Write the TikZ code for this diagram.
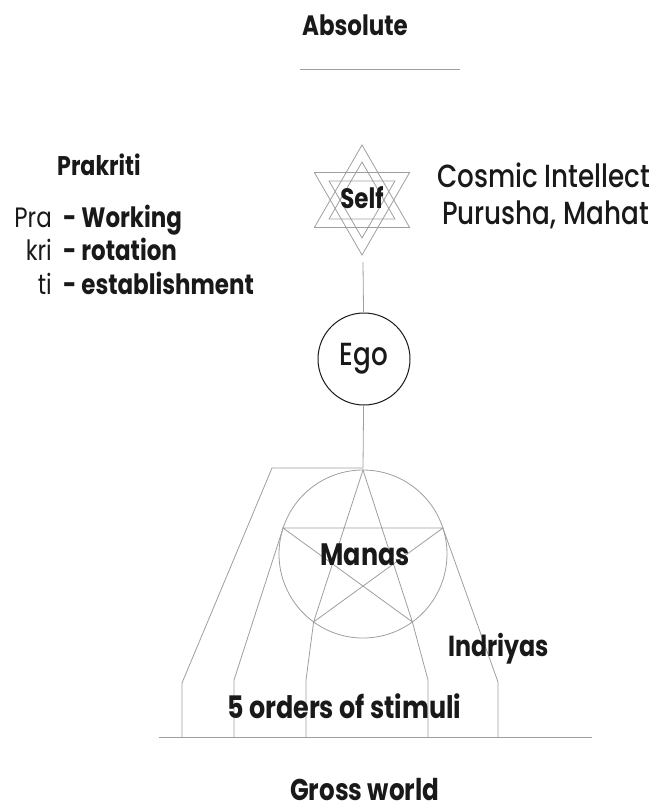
\documentclass[tikz,border=0pt]{standalone}
\usepackage{fontspec}
\setmainfont{Poppins}[FakeStretch=0.82]
\newfontfamily\mediumfont{Poppins}[UprightFont={* Medium}, FakeStretch=0.82]
\usetikzlibrary{calc}
\definecolor{lineGray}{rgb}{0.62,0.62,0.62}
\definecolor{egoGray}{rgb}{0.3,0.3,0.3}
\definecolor{textBlack}{rgb}{0.1,0.1,0.1}
\newcommand{\sizeat}[1]{\fontsize{#1}{#1}\selectfont}

\begin{document}
\begin{tikzpicture}[x=1pt,y=-1pt]

            \tikzstyle{thinLine} = [lineGray, line width=0.8pt];
            \tikzstyle{egoCircle} = [shape = circle, draw=egoGray, line width=1pt, minimum size=92pt, inner sep=0pt];
            \tikzstyle{boldLabel} = [textBlack, inner sep=0pt, font=\sizeat{31}\bfseries];
            \tikzstyle{plainLabel} = [textBlack, inner sep=0pt, font=\sizeat{28}];
            \tikzstyle{mediumLabel} = [textBlack, inner sep=0pt, font=\mediumfont\sizeat{32}];

            \useasboundingbox (0,0) rectangle (655,811);

            % top
            \node[boldLabel, font=\sizeat{28}\bfseries, anchor=base east] (absolute) at (408,35) {Absolute};
            \coordinate (absL) at (300,69);
            \coordinate (absR) at (460,69);
            \draw[thinLine] (absL) -- (absR);

            % left column
            \node[boldLabel, font=\sizeat{27}\bfseries, anchor=base west] (prakriti) at (57,175) {Prakriti};
            \node[plainLabel, anchor=base east] (pra) at (52,227) {Pra};
            \node[plainLabel, anchor=base east] (kri) at (52,260) {kri};
            \node[plainLabel, anchor=base east] (ti)  at (52,294) {ti};
            \node[boldLabel, font=\sizeat{28}\bfseries, anchor=base west] (working) at (63,227) {- Working};
            \node[boldLabel, font=\sizeat{28}\bfseries, anchor=base west] (rotation) at (63,260) {- rotation};
            \node[boldLabel, font=\sizeat{28}\bfseries, anchor=base west] (establishment) at (63,294) {- establishment};

            % right column
            \node[mediumLabel, anchor=base west] (cosmic) at (437,187) {Cosmic Intellect};
            \node[mediumLabel, anchor=base west] (purusha) at (442,224) {Purusha, Mahat};

            % star of the self
            \coordinate (star) at (362,200);
            \foreach \r in {55,38} {
              \draw[thinLine] ($(star)+(90:\r)$) -- ($(star)+(210:\r)$) -- ($(star)+(330:\r)$) -- cycle;
              \draw[thinLine] ($(star)+(270:\r)$) -- ($(star)+(30:\r)$) -- ($(star)+(150:\r)$) -- cycle;
            }
            \node[boldLabel, font=\sizeat{28}\bfseries, anchor=base] (self) at (362,208) {Self};

            % ego
            \node[egoCircle, font=\mediumfont\sizeat{32}, textBlack] (ego) at (364,359) {Ego};
            \coordinate (starBottom) at (363,262);
            \draw[thinLine] (starBottom) -- (ego);

            % manas with pentagram
            \coordinate (manasC) at (363,554);
            \draw[thinLine] (manasC) circle (84);
            \coordinate (p1) at ($(manasC)+(-90:84)$);
            \coordinate (p2) at ($(manasC)+(-162:84)$);
            \coordinate (p3) at ($(manasC)+(-234:84)$);
            \coordinate (p4) at ($(manasC)+(-306:84)$);
            \coordinate (p5) at ($(manasC)+(-18:84)$);
            \draw[thinLine] (p1) -- (p3) -- (p5) -- (p2) -- (p4) -- cycle;
            \node[boldLabel, anchor=base] (manas) at (365,565) {Manas};

            \coordinate (branch) at (363,468);
            \draw[thinLine] (ego) -- (branch);

            % five indriyas
            \coordinate (groundL) at (159,737);
            \coordinate (groundR) at (592,737);
            \draw[thinLine] (groundL) -- (groundR);
            \draw[thinLine] (branch) -- (272,468) -- (182,683) -- (182,737);
            \draw[thinLine] (p2) -- (234,680) -- (234,737);
            \draw[thinLine] (p3) -- (306,680) -- (306,737);
            \draw[thinLine] (p4) -- (428,680) -- (428,737);
            \draw[thinLine] (p5) -- (498,682) -- (498,737);

            \node[boldLabel, font=\sizeat{29}\bfseries, anchor=base west] (indriyas) at (448,656) {Indriyas};
            \node[boldLabel, anchor=base west] (stimuli) at (227,718) {5 orders of stimuli};
            \node[boldLabel, font=\sizeat{30}\bfseries, anchor=base west] (gross) at (290,800) {Gross world};

          \end{tikzpicture}
\end{document}
